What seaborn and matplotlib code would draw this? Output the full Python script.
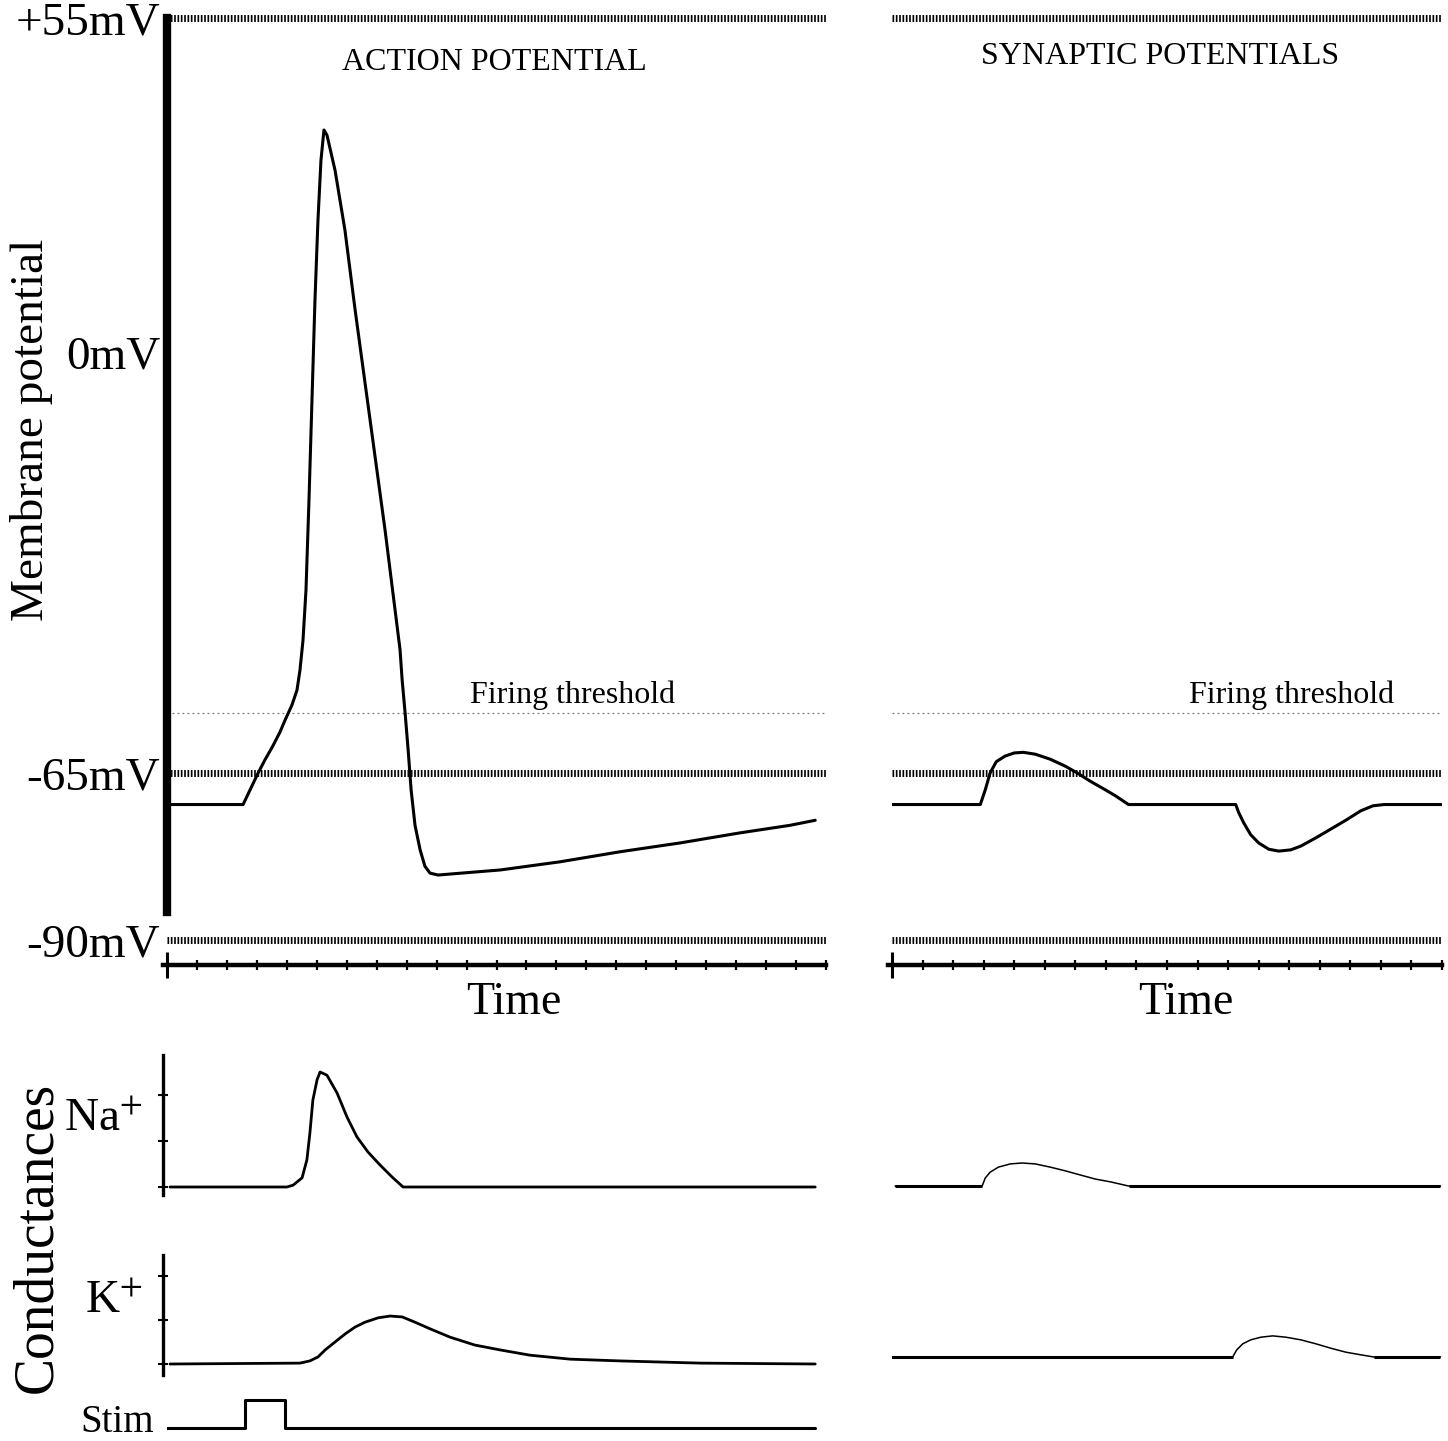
import numpy as np
import pandas as pd
import matplotlib
matplotlib.use('Agg')
import matplotlib.pyplot as plt
import seaborn as sns

# time in tick units (one tick = 1), potential in mV, conductances in arbitrary units
ap_t = [0.1, 2.54, 2.77, 3.04, 3.27, 3.51, 3.77, 3.94, 4.17, 4.34, 4.44, 4.54, 4.64, 4.74, 4.84,
        4.94, 5.04, 5.14, 5.24, 5.34, 5.61, 5.94, 6.28, 6.78, 7.28, 7.78, 7.85, 7.95, 8.05, 8.15,
        8.28, 8.45, 8.61, 8.78, 9.05, 11.12, 13.12, 15.13, 17.13, 19.13, 20.80, 21.64]
ap_mv = [-70, -70, -67.7, -65, -62.9, -60.9, -58.5, -56.6, -54.2, -51.8, -48.6, -43.9, -35.9, -21.6, -5.7,
         10.2, 22.9, 32.4, 37.2, 36.4, 30.8, 21.3, 8.6, -8.9, -26.4, -45.4, -50.2, -55.5, -61.3, -67.7,
         -73.3, -77.2, -79.8, -80.9, -81.2, -80.4, -79.1, -77.5, -76.1, -74.5, -73.3, -72.5]

na_t = [0.1, 4.0, 4.21, 4.51, 4.67, 4.77, 4.87, 5.01, 5.11, 5.34, 5.68, 6.01, 6.34, 6.71, 7.11,
        7.51, 7.88, 21.64]
na_g = [0, 0, 0.04, 0.2, 0.59, 1.17, 1.89, 2.33, 2.5, 2.43, 2.04, 1.52, 1.09, 0.76, 0.48,
        0.22, 0, 0]

k_t = [0.1, 4.44, 4.77, 5.04, 5.28, 5.61, 5.94, 6.28, 6.61, 7.05, 7.45, 7.85, 8.28, 8.78, 9.45,
       10.28, 11.12, 12.12, 13.46, 15.13, 17.80, 21.64]
k_g = [0, 0.02, 0.07, 0.16, 0.32, 0.5, 0.68, 0.84, 0.95, 1.05, 1.09, 1.07, 0.95, 0.80, 0.61,
       0.43, 0.32, 0.2, 0.11, 0.07, 0.02, 0]

stim_t = [-0.13, 2.6, 3.94, 21.64]
stim_v = [0, 1, 0, 0]

syn_t = [0, 2.89, 3.05, 3.21, 3.41, 3.70, 4.0, 4.30, 4.69, 5.18, 5.67, 6.07, 6.49, 6.89, 7.31, 7.74,
         11.25, 11.34, 11.51, 11.74, 12.0, 12.33, 12.66, 13.05, 13.38, 13.87, 14.36, 14.85, 15.34,
         15.74, 16.10, 17.97]
syn_mv = [-70, -70, -67.7, -65.0, -63.2, -62.3, -61.8, -61.7, -62.0, -62.8, -63.9, -65.0, -66.3, -67.4,
          -68.6, -70,
          -70, -71.2, -72.9, -74.8, -76.1, -77.1, -77.4, -77.2, -76.6, -75.3, -73.9, -72.5, -71.0,
          -70.2, -70, -70]

syn_na_t = [0.1, 2.95, 3.05, 3.21, 3.48, 3.87, 4.26, 4.69, 5.18, 5.67, 6.16, 6.66, 7.15, 7.74, 17.95]
syn_na_g = [0, 0, 0.17, 0.30, 0.41, 0.48, 0.5, 0.48, 0.41, 0.33, 0.24, 0.15, 0.09, 0, 0]

syn_k_t = [-0.05, 11.15, 11.28, 11.48, 11.74, 12.07, 12.46, 12.89, 13.38, 13.87, 14.36, 14.85,
           15.34, 15.77, 17.95]
syn_k_g = [0, 0, 0.16, 0.30, 0.39, 0.45, 0.48, 0.45, 0.39, 0.30, 0.2, 0.11, 0.05, 0, 0]

levels = [55, -65, -91.5]
tick_vals = [55, 1.9, -65, -91.5]
tick_text = ['+55mV', '0mV', '-65mV', '-90mV']
threshold = -55.5

sns.set_style('white', rc={'axes.edgecolor': 'black', 'xtick.color': 'black',
                           'ytick.color': 'black', 'text.color': 'black',
                           'xtick.bottom': True, 'ytick.left': True})
plt.rcParams['font.family'] = ['Liberation Serif', 'DejaVu Serif']
plt.rcParams['mathtext.fontset'] = 'stix'

W, H = 1448, 1441
fig = plt.figure(figsize=(W / 100, H / 100), dpi=100)


def box(x0, y0, x1, y1):
    return [x0 / W, 1 - y1 / H, (x1 - x0) / W, (y1 - y0) / H]


def trace(ax, t, v, lw):
    df = pd.DataFrame({'t': t, 'v': v})
    sns.lineplot(data=df, x='t', y='v', ax=ax, color='black', lw=lw,
                 sort=False, estimator=None)
    ax.set_xlabel('')
    ax.set_ylabel('')


def potential_axes(x0, x1, tmax, with_spine):
    ax = fig.add_axes(box(x0, 18, x1, 965))
    ax.set_xlim(0, tmax)
    ax.set_ylim(-95.5, 55)
    sns.despine(ax=ax)
    for y in levels:
        ax.axhline(y, color='black', lw=5, ls=(0, (0.24, 0.24)), clip_on=False)
    ax.axhline(threshold, color='#777777', lw=0.9, ls=(0, (1.5, 2.5)))
    ax.spines['bottom'].set_linewidth(3.2)
    ax.spines['bottom'].set_bounds(-0.13, tmax)
    ax.set_xticks([0])
    ax.set_xticks(np.arange(1, tmax + 1), minor=True)
    ax.tick_params(axis='x', which='major', direction='inout', length=19, width=2.2,
                   labelbottom=False)
    ax.tick_params(axis='x', which='minor', direction='inout', length=7, width=1.6)
    if with_spine:
        ax.spines['left'].set_linewidth(6)
        ax.spines['left'].set_bounds(-87, 55)
        ax.set_yticks(tick_vals, tick_text)
        ax.tick_params(axis='y', length=0, pad=5, labelsize=34)
    else:
        ax.spines['left'].set_visible(False)
        ax.set_yticks([])
    return ax


# action potential
ax1 = potential_axes(167, 826, 22, True)
trace(ax1, ap_t, ap_mv, 2.2)
ax1.set_yticks(tick_vals, tick_text)

# synaptic potentials
ax2 = potential_axes(892, 1442, 18, False)
trace(ax2, syn_t, syn_mv, 2.2)


def cond_axes(x0, x1, y0, y1, tmax, base_px, unit_px, with_spine):
    ax = fig.add_axes(box(x0, y0, x1, y1))
    ax.set_xlim(0, tmax)
    ax.set_ylim((base_px - y1) / unit_px, (base_px - y0) / unit_px)
    sns.despine(ax=ax, bottom=True, left=not with_spine)
    ax.set_xticks([])
    if with_spine:
        ax.spines['left'].set_linewidth(2.4)
        ax.spines['left'].set_position(('outward', 3))
        ax.set_yticks([0, 1, 2])
        ax.tick_params(axis='y', direction='inout', length=7, width=1.5, labelleft=False)
    else:
        ax.set_yticks([])
    return ax


ax3 = cond_axes(167, 826, 1055, 1195, 22, 1187, 46, True)
trace(ax3, na_t, na_g, 2.0)
ax4 = cond_axes(167, 826, 1255, 1375, 22, 1364, 44, True)
trace(ax4, k_t, k_g, 2.0)

ax5 = fig.add_axes(box(167, 1392, 826, 1438))
ax5.set_xlim(0, 22)
ax5.set_ylim(-0.36, 1.29)
ax5.axis('off')
sdf = pd.DataFrame({'t': stim_t, 's': stim_v})
sns.lineplot(data=sdf, x='t', y='s', ax=ax5, color='black', lw=2.2,
             drawstyle='steps-post', estimator=None, sort=False)

ax6 = cond_axes(892, 1442, 1055, 1195, 18, 1186, 46, False)
ax7 = cond_axes(892, 1442, 1248, 1368, 18, 1357, 44, False)
for ax, t, g in [(ax6, syn_na_t, syn_na_g), (ax7, syn_k_t, syn_k_g)]:
    trace(ax, t, g, 1.1)
    g = np.array(g)
    t = np.array(t)
    flat = np.where(g == 0)[0]
    ax.plot(t[flat[:2]], g[flat[:2]], color='black', lw=2.2, solid_capstyle='butt')
    ax.plot(t[flat[2:]], g[flat[2:]], color='black', lw=2.2, solid_capstyle='butt')
    ax.set_xlabel('')
    ax.set_ylabel('')


def ftext(x, y, s, size, **kw):
    fig.text(x / W, 1 - y / H, s, fontsize=size, ha='center', va='center', **kw)


ftext(494, 63, 'ACTION POTENTIAL', 23)
ftext(1160, 57, 'SYNAPTIC POTENTIALS', 23)
ftext(573, 695, 'Firing threshold', 23)
ftext(1292, 695, 'Firing threshold', 23)
ftext(514, 1003, 'Time', 33)
ftext(1186, 1003, 'Time', 33)
ftext(32, 430, 'Membrane potential', 34, rotation=90)
ftext(37, 1237, 'Conductances', 40, rotation=90)
ftext(103, 1120, r'Na$^{+}$', 34)
ftext(114, 1302, r'K$^{+}$', 34)
ftext(117, 1422, 'Stim', 28)

fig.savefig('out.png', dpi=100)
